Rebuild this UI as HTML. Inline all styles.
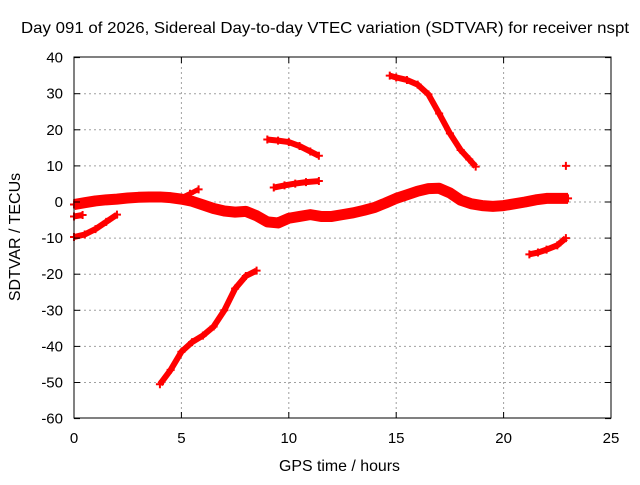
<!DOCTYPE html>
<html><head><meta charset="utf-8"><style>
body{margin:0;background:#fff}
svg text{font-family:"Liberation Sans",sans-serif;font-size:15px;fill:#000}
</style></head><body>
<svg width="640" height="480" xmlns="http://www.w3.org/2000/svg">
<rect width="640" height="480" fill="#fff"/>
<g id="grid"></g>
<g id="series"></g>
<rect x="74" y="57" width="537" height="361" fill="none" stroke="#000" stroke-width="1"/>
<g id="ticks"></g>
<text x="21" y="33" textLength="608" lengthAdjust="spacingAndGlyphs" style="font-size:16px">Day 091 of 2026, Sidereal Day-to-day VTEC variation (SDTVAR) for receiver nspt</text>
<text x="279" y="471" textLength="121" lengthAdjust="spacingAndGlyphs" style="font-size:16px">GPS time / hours</text>
<text x="0" y="0" text-anchor="middle" style="font-size:16px" transform="translate(20 237) rotate(-90)">SDTVAR / TECUs</text>
</svg>
<script>
const xTicks=[0,5,10,15,20,25];
const yTicks=[40,30,20,10,0,-10,-20,-30,-40,-50,-60];
const mainX=[0,0.5,1,1.5,2,2.5,3,3.5,4,4.5,5,5.5,6,6.5,7,7.5,8,8.5,9,9.5,10,10.5,11,11.5,12,12.5,13,13.5,14,14.5,15,15.5,16,16.5,17,17.5,18,18.5,19,19.5,20,20.5,21,21.5,22,22.5,23];
const mainY=[-0.7,-0.2,0.3,0.6,0.8,1.1,1.3,1.4,1.4,1.2,0.8,0.2,-0.8,-1.8,-2.5,-2.8,-2.6,-3.8,-5.5,-5.8,-4.5,-4,-3.5,-4,-4,-3.5,-3,-2.3,-1.5,-0.3,1,2,3,3.7,3.8,2.5,0.5,-0.5,-1,-1.2,-1,-0.5,0,0.6,1,1,1];
const arcAX=[0,0.4];const arcAY=[-4,-3.6];
const arcBX=[0,0.5,1,1.5,2];const arcBY=[-9.7,-9,-7.5,-5.5,-3.5];
const arcCX=[5,5.4,5.8];const arcCY=[1.2,2.3,3.5];
const arcDX=[4,4.5,5,5.5,6,6.5,7,7.5,8,8.5];const arcDY=[-50.5,-46.5,-41.5,-38.8,-37,-34.5,-30,-24,-20.5,-19];
const arcEX=[9,9.5,10,10.5,11,11.4];const arcEY=[17.3,17,16.6,15.5,14,12.8];
const arcFX=[9.3,9.8,10.3,10.8,11.4];const arcFY=[4,4.6,5.1,5.5,5.8];
const arcGX=[14.7,15,15.5,16,16.5,17,17.5,18,18.4,18.7];const arcGY=[35,34.5,33.8,32.5,29.8,24.5,19,14.4,11.8,9.8];
const arcHX=[21.2,21.6,22,22.5,22.9];const arcHY=[-14.5,-14,-13.2,-12,-10];
const ptIX=[22.9];const ptIY=[10];
const sx=v=>74+v*21.48, sy=v=>202-v*3.61;
const NS='http://www.w3.org/2000/svg';
function mk(t,a,p){const e=document.createElementNS(NS,t);for(const k in a)e.setAttribute(k,a[k]);p.appendChild(e);return e;}
const grid=document.getElementById('grid'),ticks=document.getElementById('ticks'),ser=document.getElementById('series');
xTicks.forEach(t=>{const x=sx(t);
 if(t>0&&t<25){const g=mk('line',{x1:x,x2:x,y1:57,y2:418,stroke:'#a0a0a0','stroke-dasharray':'2,3'},grid);
 
 }
 mk('line',{x1:x,x2:x,y1:418,y2:412,stroke:'#000'},ticks);mk('line',{x1:x,x2:x,y1:57,y2:63,stroke:'#000'},ticks);
 const l=mk('text',{x:x,y:443,'text-anchor':'middle'},ticks);l.textContent=t;
 
 });
yTicks.forEach(t=>{const y=sy(t);
 if(t<40&&t>-60){const g=mk('line',{x1:74,x2:611,y1:y,y2:y,stroke:'#a0a0a0','stroke-dasharray':'2,3'},grid);
 
 }
 mk('line',{x1:74,x2:80,y1:y,y2:y,stroke:'#000'},ticks);mk('line',{x1:611,x2:605,y1:y,y2:y,stroke:'#000'},ticks);
 const l=mk('text',{x:63,y:y+5,'text-anchor':'end'},ticks);l.textContent=t;
 
 });
function series(xs,ys,w,name){
 const g=mk('g',{},ser);
 
 
 if(xs.length>1){mk('polyline',{points:xs.map((x,i)=>sx(x)+','+sy(ys[i])).join(' '),fill:'none',stroke:'#f00','stroke-width':w,'stroke-linejoin':'round'},g);}
 xs.forEach((x,i)=>{const X=sx(x),Y=sy(ys[i]);
  mk('path',{d:`M${X-4},${Y}h8M${X},${Y-4}v8`,stroke:'#f00','stroke-width':2},g);});
}
series(mainX,mainY,11,'main-band');
series(arcAX,arcAY,6,'arc-a');
series(arcBX,arcBY,6,'arc-b');
series(arcCX,arcCY,5,'arc-c');
series(arcDX,arcDY,6,'arc-d');
series(arcEX,arcEY,6,'arc-e');
series(arcFX,arcFY,6,'arc-f');
series(arcGX,arcGY,6,'arc-g');
series(arcHX,arcHY,6,'arc-h');
series(ptIX,ptIY,5,'point-i');
</script>
</body></html>
